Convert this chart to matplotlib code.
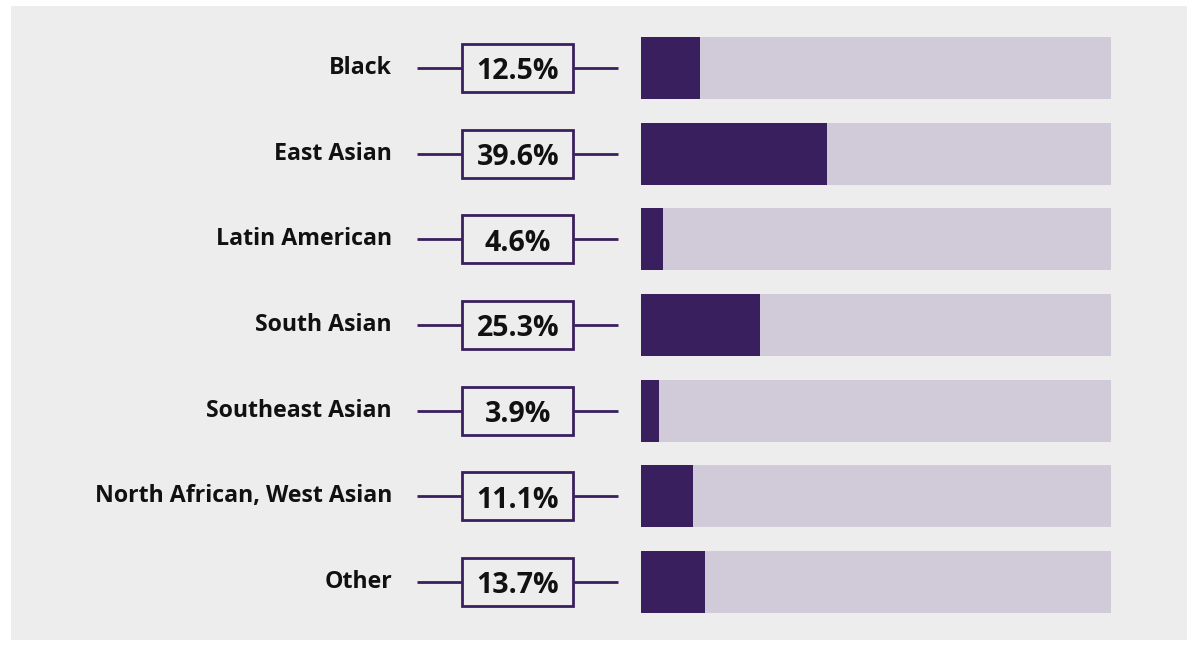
import matplotlib
matplotlib.use("Agg")
from matplotlib import pyplot as plt
from matplotlib.patches import Rectangle
import numpy as np

groups = ["Black", "East Asian", "Latin American", "South Asian",
          "Southeast Asian", "North African, West Asian", "Other"]
shares = [12.5, 39.6, 4.6, 25.3, 3.9, 11.1, 13.7]

DARK = "#3a1f5e"
LIGHT = "#d1cad9"
PANEL = "#ededed"

plt.rcParams["font.family"] = ["Open Sans", "DejaVu Sans"]

fig = plt.figure(figsize=(11.92, 6.46), dpi=100, facecolor="white")
# axes covers the grey panel; x in percent of the bar track (4.7 px per unit)
ax = fig.add_axes([11 / 1192, 6 / 646, 1176 / 1192, 634 / 646])
ax.set_facecolor(PANEL)
ax.set_xlim(-134.04, 116.17)
ax.set_ylim(6.677, -0.724)
ax.axis("off")
ax.add_patch(Rectangle((0, 0), 1, 1, transform=ax.transAxes,
                       facecolor=PANEL, edgecolor="none", zorder=0))

y = np.arange(len(groups))
ax.barh(y, [100] * len(groups), height=0.724, color=LIGHT, zorder=1)
ax.barh(y, shares, height=0.724, color=DARK, zorder=2)

for yi, name, v in zip(y, groups, shares):
    ax.text(-52.98, yi + 0.07, name, ha="right", va="baseline",
            fontsize=16.7, fontweight="bold", color="#111111")
    ax.plot([-47.7, -38.09], [yi, yi], color=DARK, lw=2, solid_capstyle="butt")
    ax.plot([-14.26, -4.9], [yi, yi], color=DARK, lw=2, solid_capstyle="butt")
    ax.add_patch(Rectangle((-38.09, yi - 0.28), 23.7, 0.56, facecolor=PANEL,
                           edgecolor=DARK, lw=2, zorder=3))
    ax.text(-26.2, yi + 0.133, f"{v}%", ha="center", va="baseline",
            fontsize=20.5, fontweight="bold", color="#111111", zorder=4)

fig.savefig("out.png", dpi=100, facecolor="white")
